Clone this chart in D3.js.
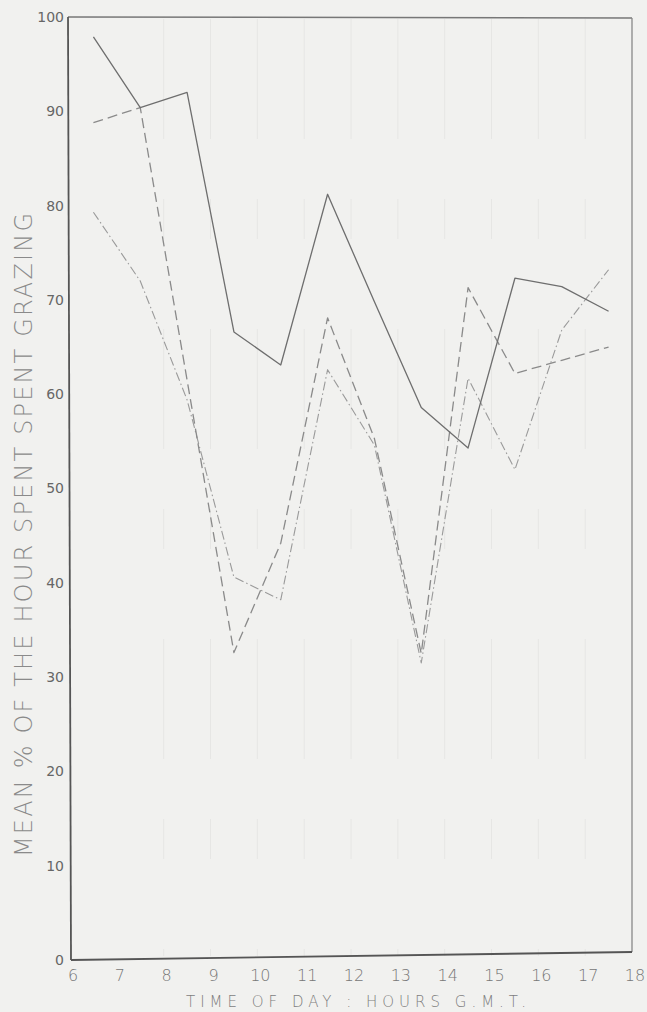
<!DOCTYPE html>
<html lang="en">

<head>
  <meta charset="UTF-8">
  <title>Grazing by hour</title>
  <script src="https://cdn.jsdelivr.net/npm/d3@7/dist/d3.min.js"></script>
  <style>
    html, body { margin: 0; padding: 0; background: #f1f1ef; }
  </style>
</head>

<body>
  <div id="svg-root"></div>
  <script>
    // hour midpoints the values were plotted at
    const hours = [6.5, 7.5, 8.5, 9.5, 10.5, 11.5, 12.5, 13.5, 14.5, 15.5, 16.5, 17.5];

    // three groups
    const solidSeries = [97.9, 90.4, 92.0, 66.6, 63.1, 81.2, 69.8, 58.6, 54.3, 72.3, 71.4, 68.8];
    const dashedSeries = [88.8, 90.4, 61.5, 32.6, 44.2, 68.1, 55.3, 32.5, 71.3, 62.2, 63.6, 65.0];
    const dashDotSeries = [79.3, 72.0, 59.4, 40.6, 38.2, 62.6, 54.6, 31.5, 61.7, 52.0, 66.8, 73.2];

    const xTicks = [6, 7, 8, 9, 10, 11, 12, 13, 14, 15, 16, 17, 18];
    const yTicks = [0, 10, 20, 30, 40, 50, 60, 70, 80, 90, 100];

    const yTitle = 'MEAN % OF THE HOUR SPENT SPENT GRAZING';
    const xTitle = 'TIME OF DAY : HOURS G.M.T.';

    const W = 647, H = 1012;
    const frame = { left: 68, right: 632, top: 17, bottom: 960 };

    const svg = d3.create('svg')
      .attr('width', W)
      .attr('height', H)
      .style('background', '#f1f1ef')
      .style('display', 'block');

    const x = d3.scaleLinear().domain([6, 18]).range([70, 632]);
    const y = d3.scaleLinear().domain([0, 100]).range([960, 17]);

    // very faint pencil grid at each hour
    svg.append('g')
      .selectAll('line')
      .data(xTicks.slice(2, 12))
      .enter()
      .append('line')
      .attr('x1', d => x(d))
      .attr('x2', d => x(d))
      .attr('y1', frame.top + 2)
      .attr('y2', frame.bottom - 4)
      .attr('stroke', '#e6e6e4')
      .attr('stroke-width', 1)
      .attr('stroke-dasharray', '120,60,40,90');

    // frame
    svg.append('line')
      .attr('x1', frame.left).attr('x2', frame.right)
      .attr('y1', frame.top).attr('y2', frame.top + 1)
      .attr('stroke', '#777').attr('stroke-width', 1.5);
    svg.append('line')
      .attr('x1', frame.right).attr('x2', frame.right)
      .attr('y1', frame.top + 1).attr('y2', frame.bottom - 8)
      .attr('stroke', '#888').attr('stroke-width', 1.3);
    svg.append('line')
      .attr('x1', frame.left).attr('x2', frame.left + 3)
      .attr('y1', frame.top).attr('y2', frame.bottom)
      .attr('stroke', '#555').attr('stroke-width', 1.8);
    svg.append('line')
      .attr('x1', frame.left + 3).attr('x2', frame.right)
      .attr('y1', frame.bottom).attr('y2', frame.bottom - 8)
      .attr('stroke', '#555').attr('stroke-width', 1.8);

    // y tick labels
    svg.append('g')
      .selectAll('text')
      .data(yTicks)
      .enter()
      .append('text')
      .attr('x', 64)
      .attr('y', d => y(d))
      .attr('dy', '0.35em')
      .attr('text-anchor', 'end')
      .attr('font-family', 'DejaVu Sans, sans-serif')
      .attr('font-size', '14px')
      .attr('fill', '#666')
      .text(d => d);

    // x tick labels
    svg.append('g')
      .selectAll('text')
      .data(xTicks)
      .enter()
      .append('text')
      .attr('x', d => x(d) + 3)
      .attr('y', 981)
      .attr('text-anchor', 'middle')
      .attr('font-family', 'DejaVu Sans, sans-serif')
      .attr('font-weight', 300)
      .attr('font-size', '16px')
      .attr('fill', '#777')
      .text(d => d);

    // axis titles
    svg.append('text')
      .attr('transform', 'translate(32,535) rotate(-90)')
      .attr('text-anchor', 'middle')
      .attr('font-family', 'DejaVu Sans, sans-serif')
      .attr('font-weight', 200)
      .attr('font-size', '24px')
      .attr('fill', '#8a8a8a')
      .attr('textLength', 644)
      .attr('lengthAdjust', 'spacing')
      .text(yTitle);

    svg.append('text')
      .attr('x', 356)
      .attr('y', 1007)
      .attr('text-anchor', 'middle')
      .attr('font-family', 'DejaVu Sans, sans-serif')
      .attr('font-weight', 200)
      .attr('font-size', '15px')
      .attr('fill', '#7e7e7e')
      .attr('textLength', 340)
      .attr('lengthAdjust', 'spacing')
      .text(xTitle);

    // the three lines
    const line = d3.line()
      .x((d, i) => x(hours[i]))
      .y(d => y(d));

    const series = [
      { values: dashDotSeries, color: '#9a9a9a', width: 1.1, dash: '9,3,1.5,3' },
      { values: dashedSeries, color: '#8a8a8a', width: 1.3, dash: '10,5' },
      { values: solidSeries, color: '#6e6e6e', width: 1.3, dash: null }
    ];

    svg.append('g')
      .selectAll('path')
      .data(series)
      .enter()
      .append('path')
      .attr('d', d => line(d.values))
      .attr('fill', 'none')
      .attr('stroke', d => d.color)
      .attr('stroke-width', d => d.width)
      .attr('stroke-linejoin', 'round')
      .attr('stroke-dasharray', d => d.dash);

    document.getElementById('svg-root').append(svg.node());
  </script>
</body>

</html>
